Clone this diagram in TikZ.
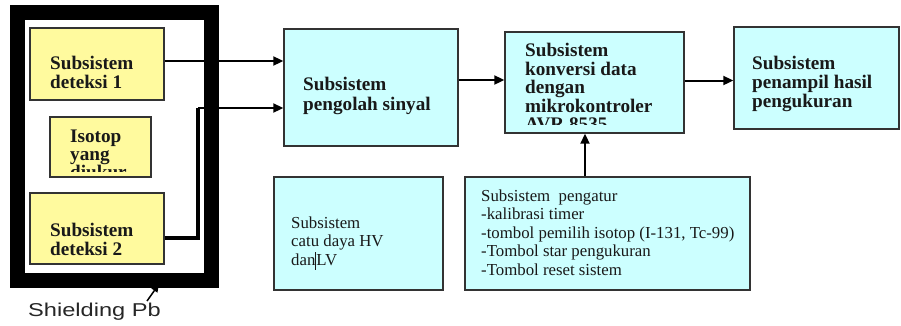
\documentclass[tikz,border=0pt]{standalone}
\usepackage{fontspec}
\usepackage{graphicx}
\setmainfont{Liberation Serif}
\newfontfamily\arialf{Liberation Sans}
\usetikzlibrary{arrows.meta}
\definecolor{boxcyan}{HTML}{CCFFFF}
\definecolor{boxyellow}{HTML}{FFFA9E}
\definecolor{edgegray}{HTML}{333333}
\begin{document}
\begin{tikzpicture}[x=1pt,y=-1pt,
  blk/.style={draw=edgegray,line width=1.4pt,fill=boxcyan,inner sep=0pt},
  yblk/.style={draw=edgegray,line width=1.4pt,fill=boxyellow,inner sep=0pt},
  btxt/.style={anchor=north west,inner sep=0pt,align=left,font=\bfseries\fontsize{19.2}{19}\selectfont,text=black!90},
  rtxt/.style={anchor=north west,inner sep=0pt,align=left,font=\fontsize{16.8}{18.5}\selectfont,text=black!90},
  arr/.style={line width=2pt,-{Triangle[length=10pt,width=9pt]}},
  thickline/.style={line width=3.5pt},
]
\useasboundingbox (0,0) rectangle (901,325);
% shielding
\node[draw=black,line width=15pt,minimum width=193.5pt,minimum height=267.5pt,inner sep=0pt] (shield) at (114.25,146.25) {};
% yellow boxes
\node[yblk,minimum width=134pt,minimum height=72pt] (det1) at (97,64) {};
\node[yblk,minimum width=101pt,minimum height=60pt] (iso) at (100.5,147) {};
\node[yblk,minimum width=134pt,minimum height=71pt] (det2) at (97,228.5) {};
% cyan boxes
\node[blk,minimum width=174pt,minimum height=117pt] (pengolah) at (371,87.5) {};
\node[blk,minimum width=179pt,minimum height=101pt] (konversi) at (594.5,82.5) {};
\node[blk,minimum width=165pt,minimum height=102pt] (penampil) at (816.5,78) {};
\node[blk,minimum width=169pt,minimum height=113pt] (catu) at (358.5,233.5) {};
\node[blk,minimum width=285pt,minimum height=113pt] (pengatur) at (607.5,233.5) {};
% texts
\node[btxt] (tdet1) at (50,56) {Subsistem\\deteksi 1};
\begin{scope}
\clip (51,118) rectangle (150,171);
\node[btxt,font=\bfseries\fontsize{19.2}{18}\selectfont] (tiso) at (70,130) {Isotop\\yang\\diukur};
\end{scope}
\node[btxt] (tdet2) at (50,223) {Subsistem\\deteksi 2};
\node[btxt,font=\bfseries\fontsize{19.2}{20}\selectfont] (tpengolah) at (303,77) {Subsistem\\pengolah sinyal};
\begin{scope}
\clip (506,33) rectangle (683,124);
\node[btxt,font=\bfseries\fontsize{19.2}{18.5}\selectfont] (tkonversi) at (525,43) {Subsistem\\konversi data\\dengan\\mikrokontroler\\AVR 8535};
\end{scope}
\node[btxt] (tpenampil) at (752,56) {Subsistem\\penampil hasil\\pengukuran};
\node[rtxt] (tcatu) at (291,216.5) {Subsistem\\catu daya HV\\dan\rule[-0.25em]{0.9pt}{1.05em}LV};
\node[rtxt] (tpengatur) at (481,189.5) {Subsistem\ \ pengatur\\-kalibrasi timer\\-tombol pemilih isotop (I-131, Tc-99)\\-Tombol star pengukuran\\-Tombol reset sistem};
\node[anchor=base west,inner sep=0pt,font=\arialf\fontsize{18.6}{22}\selectfont,text=black!85] (pb) at (28,316) {\scalebox{1.27}[1]{Shielding Pb}};
% connectors
\draw[arr] ([yshift=3pt]det1.east) -- ([yshift=3pt]det1.east -| pengolah.west);
\coordinate (bend) at (198,108);
\draw[thickline] ([yshift=-9.5pt]det2.east) -| (bend);
\draw[arr] (bend) -- (bend -| pengolah.west);
\draw[arr] ([yshift=2.5pt]pengolah.east |- konversi.west) -- ([yshift=2.5pt]konversi.west);
\draw[arr] ([yshift=2pt]konversi.east) -- ([yshift=2pt]konversi.east -| penampil.west);
\draw[arr] ([xshift=-22.5pt]pengatur.north) -- ([xshift=-22.5pt]pengatur.north |- konversi.south);
\coordinate (pbfrom) at (147,301);
\coordinate (pbtip) at (159,284);
\draw[line width=1.5pt,-{Triangle[length=8pt,width=7pt]}] (pbfrom) -- (pbtip);
\end{tikzpicture}
\end{document}
